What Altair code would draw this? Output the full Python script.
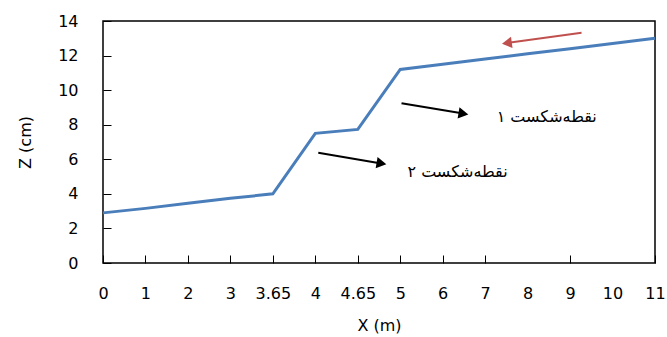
import altair as alt
import pandas as pd

# Category labels along X (evenly spaced categories)
x_labels = ["0", "1", "2", "3", "3.65", "4", "4.65", "5", "6", "7", "8", "9", "10", "11"]
z_values = [2.9, 3.16, 3.45, 3.74, 4.0, 7.5, 7.73, 11.2, 11.5, 11.8, 12.1, 12.4, 12.7, 13.0]
y_ticks = [0, 2, 4, 6, 8, 10, 12, 14]

# Annotation arrows (in category-index / z units)
arrow_id = ["a1", "a1", "a2", "a2", "r", "r"]
arrow_x = [7.03, 8.45, 5.07, 6.52, 11.27, 9.55]
arrow_z = [9.24, 8.66, 6.38, 5.77, 13.32, 12.74]
head_x = [8.45, 6.52, 9.55]
head_z = [8.66, 5.77, 12.74]
head_angle = [99.5, 99.7, 262.2]
head_col = ["black", "black", "red"]

note_text = ["نقطه‌شکست ۱", "نقطه‌شکست ۲"]
note_x = [10.45, 8.35]
note_z = [8.46, 5.28]

line_df = pd.DataFrame({"idx": list(range(len(x_labels))), "z": z_values})
arrow_df = pd.DataFrame({"id": arrow_id, "idx": arrow_x, "z": arrow_z})
head_df = pd.DataFrame({"idx": head_x, "z": head_z, "angle": head_angle, "col": head_col})
note_df = pd.DataFrame({"t": note_text, "idx": note_x, "z": note_z})

label_arr = "[" + ",".join("'" + l + "'" for l in x_labels) + "]"

xscale = alt.Scale(domain=[0, len(x_labels) - 1], nice=False, zero=False)
yscale = alt.Scale(domain=[0, 14], nice=False)

FONT = "DejaVu Sans"
FS = 16

x_enc = alt.X(
    "idx:Q",
    scale=xscale,
    axis=alt.Axis(
        values=list(range(len(x_labels))),
        labelExpr=label_arr + "[datum.value]",
        title="X (m)",
        domain=False,
        offset=-8,
        tickSize=8,
        tickColor="black",
        tickOpacity={"condition": {"test": "datum.value == 10 || datum.value == 12", "value": 0}, "value": 1},
        labelPadding=22,
        labelFont=FONT,
        labelFontSize=FS,
        labelColor="black",
        labelFlush=False,
        labelOverlap=False,
        titleFont=FONT,
        titleFontSize=FS,
        titleFontWeight="normal",
        titleColor="black",
        titlePadding=16,
        grid=False,
    ),
)
y_enc = alt.Y(
    "z:Q",
    scale=yscale,
    axis=alt.Axis(
        values=y_ticks,
        tickCount=8,
        title="Z (cm)",
        domain=False,
        offset=-8,
        tickSize=8,
        tickColor="black",
        labelPadding=25,
        labelFont=FONT,
        labelFontSize=FS,
        labelColor="black",
        labelFlush=False,
        labelOverlap=False,
        titleFont=FONT,
        titleFontSize=FS,
        titleFontWeight="normal",
        titleColor="black",
        titlePadding=24,
        grid=False,
    ),
)

line = alt.Chart(line_df).mark_line(color="#4a7ebb", strokeWidth=3).encode(x=x_enc, y=y_enc)

arrows = alt.Chart(arrow_df).mark_line(strokeWidth=2).encode(
    x=x_enc,
    y=y_enc,
    detail="id:N",
    color=alt.Color("id:N", scale=alt.Scale(domain=["a1", "a2", "r"], range=["black", "black", "#c0504d"]), legend=None),
)

heads = alt.Chart(head_df).mark_point(shape="triangle", filled=True, size=130, opacity=1).encode(
    x=x_enc,
    y=y_enc,
    angle=alt.Angle("angle:Q", scale=None),
    color=alt.Color("col:N", scale=alt.Scale(domain=["black", "red"], range=["black", "#c0504d"]), legend=None),
)

notes = alt.Chart(note_df).mark_text(font=FONT, fontSize=FS, color="black", align="center", baseline="middle").encode(
    x=x_enc,
    y=y_enc,
    text="t:N",
)

chart = (
    alt.layer(line, arrows, heads, notes)
    .resolve_scale(color="independent")
    .properties(
        width=552,
        height=242,
        autosize=alt.AutoSizeParams(type="none"),
        padding={"left": 103, "top": 21, "right": 12, "bottom": 74},
        background="white",
    )
    .configure_view(stroke="black", strokeWidth=1.5)
)

chart.save("out.html", embed_options={"renderer": "svg", "actions": False})
